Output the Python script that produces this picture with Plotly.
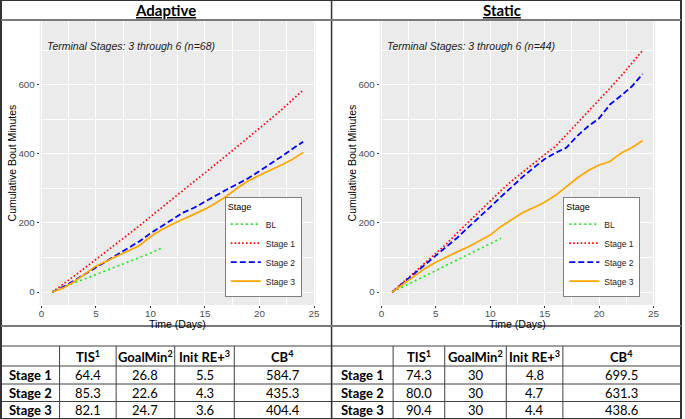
import plotly.graph_objects as go

# ──────────────────────────────────────────────────────────────────────────────
# Cumulative bout minutes by day
DAYS = list(range(1, 25))
BL_DAYS = list(range(1, 12))

ADAPTIVE_BL = [0, 14, 27, 38, 50, 62, 74, 87, 100, 113, 127]
ADAPTIVE_S1 = [0, 22, 46, 70, 94, 118, 142, 166, 192, 218, 244, 270,
               295, 320, 345, 370, 396, 422, 448, 474, 500, 527, 556, 584.7]
ADAPTIVE_S2 = [0, 15, 33, 52, 72, 92, 110, 128, 147, 170, 190, 210,
               230, 244, 262, 280, 297, 313, 330, 350, 370, 392, 414, 435.3]
ADAPTIVE_S3 = [0, 12, 30, 52, 75, 90, 105, 120, 135, 160, 180, 196,
               211, 226, 240, 258, 278, 302, 322, 338, 352, 368, 384, 404.4]

STATIC_BL = [0, 15, 30, 46, 62, 78, 93, 109, 124, 140, 156]
STATIC_S1 = [0, 28, 56, 84, 112, 140, 172, 203, 234, 264, 294, 322,
             348, 374, 398, 422, 455, 490, 522, 556, 590, 625, 662, 699.5]
STATIC_S2 = [0, 26, 52, 78, 104, 130, 158, 188, 216, 246, 276, 306,
             334, 360, 385, 403, 418, 452, 480, 503, 543, 568, 595, 631.3]
STATIC_S3 = [0, 22, 45, 68, 86, 102, 117, 131, 147, 165, 190, 210,
             230, 245, 260, 280, 305, 330, 352, 368, 378, 402, 418, 438.6]

STAGE_NAMES = ["BL", "Stage 1", "Stage 2", "Stage 3"]
PANEL_TITLES = ["Adaptive", "Static"]
PANEL_NOTES = ["Terminal Stages: 3 through 6 (n=68)",
               "Terminal Stages: 3 through 6 (n=44)"]

# summary tables
TABLE_HEADER = ["", "TIS<sup>1</sup>", "GoalMin<sup>2</sup>",
                "Init RE+<sup>3</sup>", "CB<sup>4</sup>"]
ROW_LABELS = ["Stage 1", "Stage 2", "Stage 3"]
ADAPTIVE_TIS = ["64.4", "85.3", "82.1"]
ADAPTIVE_GOAL = ["26.8", "22.6", "24.7"]
ADAPTIVE_INIT = ["5.5", "4.3", "3.6"]
ADAPTIVE_CB = ["584.7", "435.3", "404.4"]
STATIC_TIS = ["74.3", "80.0", "90.4"]
STATIC_GOAL = ["30", "30", "30"]
STATIC_INIT = ["4.8", "4.7", "4.4"]
STATIC_CB = ["699.5", "631.3", "438.6"]
# ──────────────────────────────────────────────────────────────────────────────

W, H = 685, 419


def fx(x):
    return x / W


def fy(y):
    return 1 - y / H


STYLES = {
    "BL": dict(color="#1EE81E", dash="2px,3px", width=1.7),
    "Stage 1": dict(color="#FF0000", dash="1.6px,2.2px", width=1.7),
    "Stage 2": dict(color="#0000FF", dash="6px,3px", width=1.8),
    "Stage 3": dict(color="#FFA500", dash="solid", width=1.7),
}

fig = go.Figure()

panels = [
    ("x", "y", "legend", [ADAPTIVE_BL, ADAPTIVE_S1, ADAPTIVE_S2, ADAPTIVE_S3]),
    ("x2", "y2", "legend2", [STATIC_BL, STATIC_S1, STATIC_S2, STATIC_S3]),
]
for xa, ya, leg, series in panels:
    for name, vals in zip(STAGE_NAMES, series):
        xs = BL_DAYS if name == "BL" else DAYS
        fig.add_trace(go.Scatter(
            x=xs, y=vals, mode="lines", name=name,
            line=STYLES[name], xaxis=xa, yaxis=ya, legend=leg,
        ))

ARIAL = "Liberation Sans, Arial"
tick_font = dict(family=ARIAL, size=9.8, color="#4D4D4D")
title_font = dict(family=ARIAL, size=10.5, color="#000000")

axis_common = dict(
    showgrid=True, gridcolor="#FFFFFF", gridwidth=1.1,
    zeroline=False, showline=False,
    ticks="outside", ticklen=2, tickcolor="#333333", tickwidth=1,
    tickfont=tick_font,
)

x_domains = [(39, 317), (381.5, 659)]
y_top, y_bot = 20, 305

# paper-anchored text helper: always centred on the given pixel spot
def label(text, x, y, font, **kw):
    return dict(text=text, x=fx(x), y=fy(y), xref="paper", yref="paper",
                xanchor="center", yanchor="middle", showarrow=False,
                font=font, **kw)


annotations = []
for i, (x0, x1) in enumerate(x_domains):
    sfx = "" if i == 0 else str(i + 1)
    fig.update_layout(**{
        "xaxis" + sfx: dict(
            axis_common, domain=[fx(x0), fx(x1)], range=[-0.15, 25.15],
            tickvals=[0, 5, 10, 15, 20, 25], anchor="y" + sfx,
            ticklabelstandoff=-3,
            minor=dict(dtick=2.5, tick0=0, showgrid=True,
                       gridcolor="#FFFFFF", gridwidth=0.5, ticks=""),
        ),
        "yaxis" + sfx: dict(
            axis_common, domain=[fy(y_bot), fy(y_top)], range=[-37.5, 787.5],
            tickvals=[0, 200, 400, 600], anchor="x" + sfx,
            minor=dict(dtick=100, tick0=0, showgrid=True,
                       gridcolor="#FFFFFF", gridwidth=0.5, ticks=""),
        ),
    })
    annotations.append(label("Time (Days)", (x0 + x1) / 2, 324, title_font))
    annotations.append(label("Cumulative Bout Minutes", x0 - 28,
                             (y_top + y_bot) / 2, title_font, textangle=-90))

legend_common = dict(
    bgcolor="#FFFFFF", bordercolor="#7F7F7F", borderwidth=1,
    font=dict(family=ARIAL, size=8.5, color="#222222"),
    title=dict(text="Stage", font=dict(family=ARIAL, size=9, color="#000000")),
    xanchor="right", yanchor="bottom", itemwidth=30, tracegroupgap=0,
    xref="paper", yref="paper",
)
fig.update_layout(
    legend=dict(legend_common, x=fx(303), y=fy(297)),
    legend2=dict(legend_common, x=fx(644), y=fy(297)),
)

for i, (title, note) in enumerate(zip(PANEL_TITLES, PANEL_NOTES)):
    cx = 166 if i == 0 else 505
    annotations.append(label("<b><u>" + title + "</u></b>", cx, 10,
                             dict(family="Lato", size=15, color="#000000")))
    sfx = "" if i == 0 else str(i + 1)
    annotations.append(dict(
        text="<i>" + note + "</i>", x=0.35, y=712,
        xref="x" + sfx, yref="y" + sfx, xanchor="left", yanchor="middle",
        showarrow=False, font=dict(family=ARIAL, size=10.5, color="#1A1A1A"),
    ))

# summary tables under each panel (cells laid out on a pixel grid)
row_lines = [346, 366, 384, 401.5, 419]
table_sets = [
    ([0, 59, 116, 175, 235, 333],
     [ADAPTIVE_TIS, ADAPTIVE_GOAL, ADAPTIVE_INIT, ADAPTIVE_CB]),
    ([333, 395, 447, 509, 566, 685],
     [STATIC_TIS, STATIC_GOAL, STATIC_INIT, STATIC_CB]),
]
cell_font = dict(family="Lato", size=13, color="#000000")
grid = dict(color="#404040", width=1)
shapes = []
for col_lines, cols in table_sets:
    columns = [["<b>" + r + "</b>" for r in ROW_LABELS]] + cols
    for c, (head, vals) in enumerate(zip(TABLE_HEADER, columns)):
        cx = (col_lines[c] + col_lines[c + 1]) / 2
        cells = ["<b>" + head + "</b>" if head else ""] + vals
        for r, txt in enumerate(cells):
            if not txt:
                continue
            cy = (row_lines[r] + row_lines[r + 1]) / 2
            annotations.append(label(txt, cx, cy, cell_font))
    for xl in col_lines:
        shapes.append(dict(type="line", xref="paper", yref="paper",
                           x0=fx(xl), x1=fx(xl), y0=0, y1=fy(row_lines[0]),
                           line=grid))
    for yl in row_lines:
        shapes.append(dict(type="line", xref="paper", yref="paper",
                           x0=fx(col_lines[0]), x1=fx(col_lines[-1]),
                           y0=fy(yl), y1=fy(yl), line=grid))

fig.update_layout(annotations=annotations)

# frame lines of the composite layout
line_dark = dict(color="#333333", width=1.5)
line_grey = dict(color="#7A7A7A", width=2)
shapes += [
    dict(type="rect", xref="paper", yref="paper", x0=0, y0=0, x1=1, y1=1,
         line=dict(color="#333333", width=2)),
    dict(type="line", xref="paper", yref="paper", x0=fx(333), x1=fx(333),
         y0=0, y1=1, line=line_dark),
    dict(type="line", xref="paper", yref="paper", x0=0, x1=1,
         y0=fy(20), y1=fy(20), line=line_grey),
    dict(type="line", xref="paper", yref="paper", x0=0, x1=1,
         y0=fy(326), y1=fy(326), line=line_grey),
]
fig.update_layout(shapes=shapes)

fig.update_layout(
    width=W, height=H,
    margin=dict(l=0, r=0, t=0, b=0),
    paper_bgcolor="#FFFFFF", plot_bgcolor="#EBEBEB",
    showlegend=True,
)

# the page body has a default margin; drop it so the figure sits at 0,0
fig.write_html("out.html", config={"displayModeBar": False},
               post_script="document.body.style.margin='0';")
